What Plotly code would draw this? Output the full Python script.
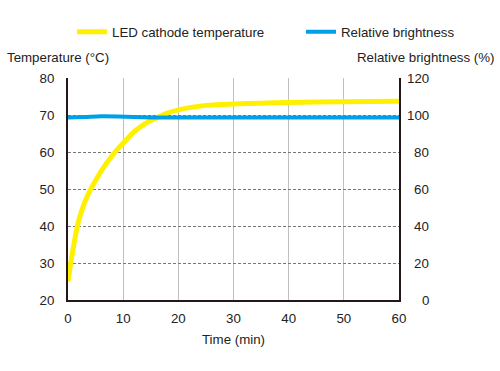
import plotly.graph_objects as go

# Data
time_temp = [0, 0.3, 0.6, 1, 1.5, 2, 3, 4, 5, 6, 7, 8, 9, 10, 12, 14, 16, 18, 20, 22, 25, 30, 35, 40, 50, 60]
temp_c = [25, 28, 31, 34.5, 38.5, 41.7, 46.3, 49.6, 52.3, 54.8, 57, 59, 60.8, 62.4, 65.5, 67.7,
          69.2, 70.5, 71.4, 72, 72.6, 73.0, 73.2, 73.4, 73.6, 73.7]
time_bright = [0, 3, 6, 9, 12, 15, 20, 30, 40, 50, 60]
brightness = [98.6, 98.9, 99.3, 99.2, 98.9, 98.7, 98.7, 98.7, 98.7, 98.7, 98.7]
x_ticks = [0, 10, 20, 30, 40, 50, 60]
y_ticks = [20, 30, 40, 50, 60, 70, 80]
y2_ticks = [0, 20, 40, 60, 80, 100, 120]

FONT = "Liberation Sans, Arial, sans-serif"
AX = "#231815"
FS = 13.3
W, H = 500, 371
ML, MR, MT, MB = 68, 101, 78, 71
PW, PH = W - ML - MR, H - MT - MB


def px_x(p):
    return (p - ML) / PW


def px_y(p):
    return (H - MB - p) / PH


fig = go.Figure()
fig.add_trace(go.Scatter(x=time_temp, y=temp_c, mode="lines", name="LED cathode temperature",
                         line=dict(color="#FFF000", width=5, shape="spline", smoothing=0.5),
                         yaxis="y", legend="legend"))
fig.add_trace(go.Scatter(x=time_bright, y=brightness, mode="lines", name="Relative brightness",
                         line=dict(color="#00A0E9", width=4, shape="spline", smoothing=0.8),
                         yaxis="y2", legend="legend2"))

annotations = [
    dict(text="Temperature (°C)", x=px_x(5), y=px_y(57), xref="paper", yref="paper", showarrow=False,
         xanchor="left", yanchor="middle", font=dict(size=FS)),
    dict(text="Relative brightness (%)", x=px_x(496), y=px_y(57), xref="paper", yref="paper",
         showarrow=False, xanchor="right", yanchor="middle", font=dict(size=FS)),
]
for v in y2_ticks:
    annotations.append(dict(text=str(v), x=1, y=v, xref="paper", yref="y2", showarrow=False,
                            xanchor="right", yanchor="middle", xshift=32, font=dict(size=FS)))

leg_common = dict(orientation="h", xref="container", yref="container", y=1 - 32 / H,
                  xanchor="left", yanchor="middle", font=dict(size=FS), bgcolor="rgba(0,0,0,0)",
                  borderwidth=0)

fig.update_layout(
    width=W, height=H,
    margin=dict(l=ML, r=MR, t=MT, b=MB, autoexpand=False),
    paper_bgcolor="white", plot_bgcolor="white",
    font=dict(family=FONT, size=FS, color="#222"),
    showlegend=True,
    legend=dict(x=72 / W, **leg_common),
    legend2=dict(x=301 / W, **leg_common),
    xaxis=dict(range=[0, 60], tickvals=x_ticks, showgrid=True, gridcolor="#c0c0c0", gridwidth=1,
               showline=True, linecolor=AX, linewidth=2, ticks="", zeroline=False, automargin=False,
               ticklabelstandoff=5,
               title=dict(text="Time (min)", standoff=10, font=dict(size=FS))),
    yaxis=dict(range=[20, 80], tickvals=y_ticks, showgrid=True, gridcolor="#777", griddash="3px,2px",
               gridwidth=1, showline=True, linecolor=AX, linewidth=2, ticks="", zeroline=False,
               ticklabelstandoff=9, automargin=False),
    yaxis2=dict(range=[0, 120], tickvals=y2_ticks, overlaying="y", side="right", showgrid=False,
                showline=True, linecolor=AX, linewidth=2, ticks="", zeroline=False,
                showticklabels=False, automargin=False),
    annotations=annotations,
)

fig.write_html("out.html", config={"displayModeBar": False},
               post_script="document.body.style.margin='0';document.body.style.overflow='hidden';")
